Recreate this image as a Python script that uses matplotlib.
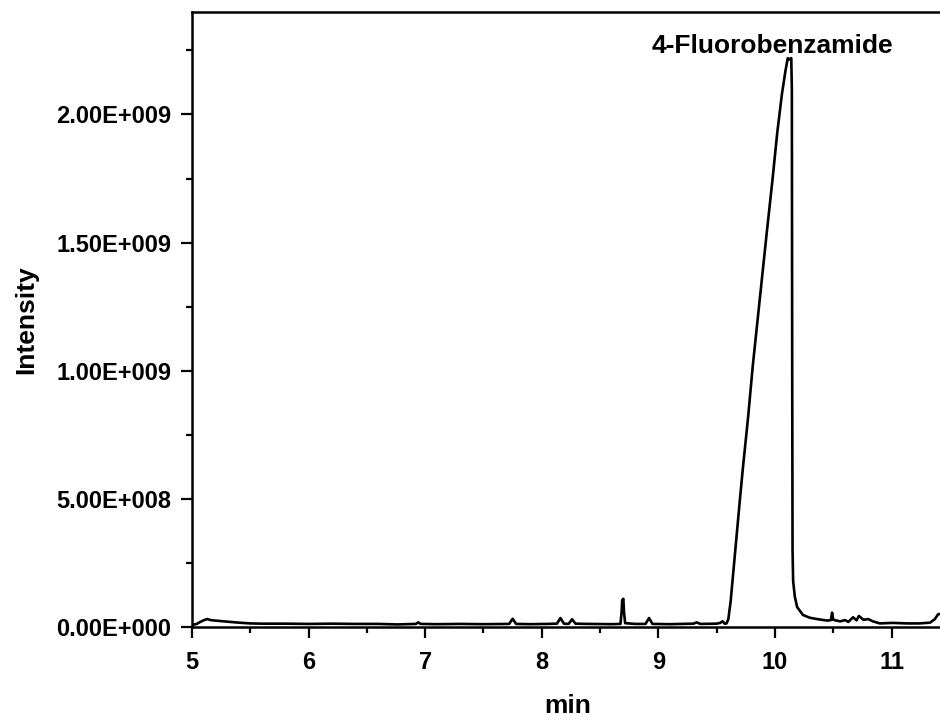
import numpy as np
import matplotlib
matplotlib.use("Agg")
from matplotlib import pyplot as plt
from matplotlib.ticker import FuncFormatter, MultipleLocator

plt.rcParams['font.family'] = ['Liberation Sans', 'DejaVu Sans']
plt.rcParams['font.weight'] = 'bold'

# retention time (min) and intensity (x1e9)
time = [5.00, 5.04, 5.08, 5.11, 5.13, 5.16, 5.20, 5.30, 5.40, 5.50, 5.60,
        5.80, 6.00, 6.20, 6.40, 6.60, 6.76, 6.92, 6.94, 6.96, 7.10, 7.30,
        7.50, 7.72, 7.75, 7.78, 7.90, 8.05, 8.13, 8.16, 8.19, 8.23, 8.26,
        8.29, 8.40, 8.60, 8.675, 8.685, 8.69, 8.70, 8.705, 8.715, 8.80,
        8.89, 8.92, 8.95, 9.10, 9.30, 9.33, 9.36, 9.50, 9.53, 9.55, 9.57,
        9.585, 9.60, 9.62, 9.64, 9.67, 9.70, 9.725, 9.77, 9.81, 9.87,
        9.93, 9.98, 10.02, 10.06, 10.09, 10.11, 10.125, 10.14, 10.145,
        10.148, 10.151, 10.156, 10.17, 10.19, 10.24, 10.30, 10.36, 10.45,
        10.48, 10.49, 10.50, 10.56, 10.60, 10.63, 10.67, 10.70, 10.72,
        10.76, 10.80, 10.84, 10.90, 11.01, 11.13, 11.24, 11.33, 11.37,
        11.40, 11.45]
intensity = [0.008, 0.012, 0.022, 0.028, 0.031, 0.027, 0.025, 0.021, 0.017,
             0.014, 0.013, 0.013, 0.012, 0.013, 0.012, 0.012, 0.010, 0.012,
             0.018, 0.012, 0.011, 0.012, 0.011, 0.012, 0.032, 0.012, 0.011,
             0.012, 0.013, 0.035, 0.013, 0.012, 0.030, 0.013, 0.012, 0.011,
             0.012, 0.060, 0.105, 0.110, 0.060, 0.015, 0.012, 0.012, 0.035,
             0.012, 0.011, 0.013, 0.018, 0.012, 0.013, 0.016, 0.022, 0.013,
             0.014, 0.030, 0.100, 0.200, 0.350, 0.500, 0.620, 0.820, 1.020,
             1.280, 1.540, 1.750, 1.930, 2.080, 2.170, 2.220, 2.215, 2.220,
             2.100, 1.000, 0.300, 0.180, 0.120, 0.078, 0.047, 0.036, 0.031,
             0.025, 0.027, 0.056, 0.028, 0.022, 0.027, 0.020, 0.038, 0.026,
             0.043, 0.028, 0.031, 0.022, 0.014, 0.016, 0.014, 0.014, 0.017,
             0.030, 0.050, 0.052]

yticks = [0, 5e8, 1e9, 1.5e9, 2e9]
peak_label = "4-Fluorobenzamide"


def sci(v, pos):
    mant, exp = f"{v:.2E}".split("E")
    return f"{mant}E{exp[0]}{int(exp[1:]):03d}"


fig = plt.figure(figsize=(9.4, 7.19), dpi=100)
ax = fig.add_axes([192/940, 92/719, 752/940, 615/719])

ax.plot(time, np.array(intensity)*1e9, color='black', lw=1.9)

ax.set_xlim(5, 11.45)
ax.set_ylim(0, 2.4e9)
ax.set_yticks(yticks)
ax.yaxis.set_major_formatter(FuncFormatter(sci))
ax.yaxis.set_minor_locator(MultipleLocator(2.5e8))
ax.xaxis.set_major_locator(MultipleLocator(1))
ax.xaxis.set_minor_locator(MultipleLocator(0.5))

for s in ax.spines.values():
    s.set_linewidth(1.8)
ax.tick_params(which='major', direction='out', length=8, width=1.6,
               labelsize=17, pad=7)
ax.tick_params(axis='x', which='major', pad=9)
ax.tick_params(which='minor', direction='out', length=4.5, width=1.6)
for lab in ax.get_xticklabels() + ax.get_yticklabels():
    lab.set_fontweight('bold')

ax.set_xlabel("min", fontsize=19, fontweight='bold', labelpad=15)
ax.set_ylabel("Intensity", fontsize=19, fontweight='bold', labelpad=13)

ax.text(9.98, 2.24e9, peak_label, ha='center', va='baseline',
        fontsize=19, fontweight='bold')

fig.savefig("out.png", dpi=100)
